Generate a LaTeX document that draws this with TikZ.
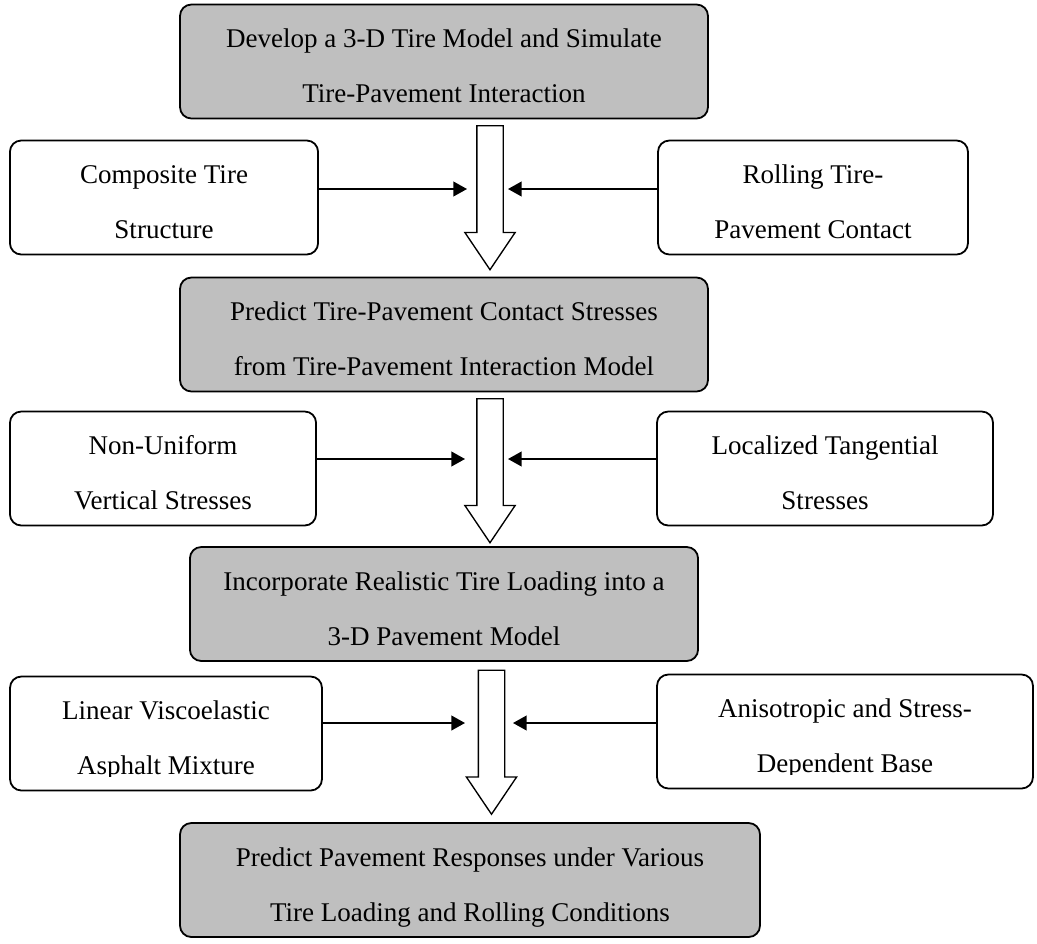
\documentclass[tikz,border=0pt,12pt]{standalone}
\usepackage{fontspec}
\setmainfont{Liberation Serif}
\usetikzlibrary{shapes.arrows, arrows.meta, positioning, calc}
\newcommand{\pxu}{0.444pt}

\begin{document}
\begin{tikzpicture}[
    x=\pxu, y=-\pxu,
    stage/.style={rectangle, rounded corners=5pt, draw=black, line width=0.8pt, fill=gray!50, minimum height=50.6pt, align=center, font=\fontsize{12}{24.4}\selectfont, text height=40.4pt, text depth=4pt, inner sep=0pt},
    factor/.style={stage, fill=white},
    flow/.style={single arrow, draw=black, line width=0.6pt, fill=white, rotate=-90, minimum height=63.9pt, single arrow head extend=5.3pt, single arrow tip angle=68, inner xsep=0pt, inner ysep=5.55pt},
    feed/.style={-{Triangle[length=6pt, width=6.5pt]}, line width=0.7pt}
]
    \useasboundingbox (0,0) rectangle (1037,943);

    % Stages
    \node[stage, minimum width=234.4pt] (develop) at (444,61.5) {Develop a 3-D Tire Model and Simulate\\Tire-Pavement Interaction};
    \node[stage, minimum width=234.4pt] (contact) at (444,334.5) {Predict Tire-Pavement Contact Stresses\\from Tire-Pavement Interaction Model};
    \node[stage, minimum width=225.6pt] (loading) at (444,604) {Incorporate Realistic Tire Loading into a\\3-D Pavement Model};
    \node[stage, minimum width=257.5pt] (response) at (470,880) {Predict Pavement Responses under Various\\Tire Loading and Rolling Conditions};

    % Hollow arrows between stages
    \node[flow] (downA) at (490,188) {};
    \node[flow] (downB) at (490,461) {};
    \node[flow] (downC) at (491.5,732.5) {};

    % First row
    \node[factor, minimum width=136.8pt] (composite) at (164,197.5) {Composite Tire\\Structure};
    \node[factor, minimum width=137.6pt] (rolling) at (813,197.5) {Rolling Tire-\\Pavement Contact};

    % Second row
    \node[factor, minimum width=135.9pt] (nonuniform) at (163,468.5) {Non-Uniform\\Vertical Stresses};
    \node[factor, minimum width=149.2pt] (tangential) at (825,468.5) {Localized Tangential\\Stresses};

    % Third row (text cut off at the bottom)
    \node[factor, minimum width=138.5pt] (visco) at (166,733.5) {};
    \node[factor, minimum width=166.9pt] (aniso) at (845,731.5) {};
    \begin{scope}
        \clip (visco.north west) rectangle ([yshift=6.7pt]visco.south east);
        \node[factor, draw=none, fill=none, minimum width=138.5pt] (visco-text) at (visco) {Linear Viscoelastic\\Asphalt Mixture};
    \end{scope}
    \begin{scope}
        \clip (aniso.north west) rectangle ([yshift=6.7pt]aniso.south east);
        \node[factor, draw=none, fill=none, minimum width=166.9pt] (aniso-text) at (aniso) {Anisotropic and Stress-\\Dependent Base};
    \end{scope}

    % Arrow ends beside the hollow arrows
    \coordinate (inA1) at (467,189);
    \coordinate (inA2) at (508,189);
    \coordinate (inB1) at (465,459);
    \coordinate (inB2) at (508,459);
    \coordinate (inC1) at (465,723);
    \coordinate (inC2) at (513,723);

    % Arrows
    \draw[feed] (composite.east |- inA1) -- (inA1);
    \draw[feed] (rolling.west |- inA2) -- (inA2);
    \draw[feed] (nonuniform.east |- inB1) -- (inB1);
    \draw[feed] (tangential.west |- inB2) -- (inB2);
    \draw[feed] (visco.east |- inC1) -- (inC1);
    \draw[feed] (aniso.west |- inC2) -- (inC2);
\end{tikzpicture}
\end{document}
